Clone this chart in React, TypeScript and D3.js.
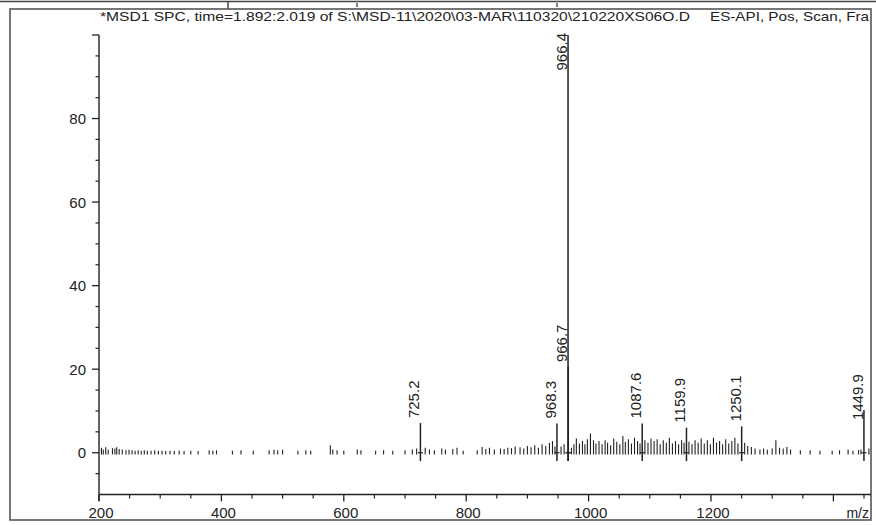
import * as d3 from "d3";

// spectrum header
const titleLeft = "*MSD1 SPC, time=1.892:2.019 of S:\\MSD-11\\2020\\03-MAR\\110320\\210220XS06O.D";
const titleRight = "ES-API, Pos, Scan, Fra";

// labelled peaks (m/z, % abundance, printed label)
const peakMz = [725.2, 948.3, 966.4, 966.7, 1087.6, 1159.9, 1250.1, 1449.9];
const peakInt = [7.1, 7.0, 100, 20.5, 7.0, 6.0, 6.3, 10.2];
const peakLabel = ["725.2", "968.3", "966.4", "966.7", "1087.6", "1159.9", "1250.1", "1449.9"];

// small unlabelled sticks along the baseline
const noiseMz = [
  204, 207, 211, 215, 222, 226, 229, 233, 238, 244, 249, 254, 259, 264, 269, 274, 279, 285, 291, 297,
  303, 309, 316, 323, 331, 339, 350, 362, 380, 386, 392,
  418, 432, 452, 478, 486, 492, 500, 525, 538, 546, 578, 582, 589, 600, 622, 628, 652, 665, 680, 700, 712, 719,
  733, 740, 748, 760, 766, 778, 785, 795,
  818, 826, 832, 838, 846, 856, 862, 868, 874, 880, 888, 894, 900, 906, 912, 918, 924, 930, 936, 941, 945,
  955, 960, 972, 976, 980, 985, 990, 994, 998, 1003, 1008, 1012, 1017, 1022, 1027, 1031, 1036, 1041, 1046,
  1051, 1056, 1060, 1065, 1070, 1075, 1080, 1084, 1092, 1097, 1102, 1107, 1112, 1117, 1122, 1127, 1132,
  1137, 1142, 1147, 1152, 1156, 1164, 1169, 1174, 1179, 1184, 1189, 1194, 1199, 1204, 1209, 1214, 1219,
  1224, 1229, 1234, 1239, 1244, 1255, 1260, 1266, 1272, 1280, 1286, 1292,
  1300, 1306, 1312, 1318, 1324, 1330, 1346, 1362, 1378, 1398, 1410, 1424, 1432, 1441, 1445, 1458,
];
const noiseInt = [
  1.2, 0.8, 1.3, 0.7, 1.1, 1.0, 1.3, 0.9, 0.8, 0.6, 0.7, 0.6, 0.5, 0.6, 0.5, 0.6, 0.5, 0.5, 0.6, 0.5,
  0.5, 0.4, 0.5, 0.4, 0.5, 0.4, 0.5, 0.4, 0.6, 0.5, 0.6,
  0.5, 0.6, 0.5, 0.6, 0.7, 0.6, 0.7, 0.5, 0.6, 0.5, 1.8, 0.8, 0.6, 0.5, 0.8, 0.6, 0.5, 0.6, 0.5, 0.6, 0.8, 1.0,
  1.2, 0.8, 0.6, 1.0, 0.8, 0.9, 1.2, 0.5,
  0.6, 1.4, 0.9, 1.2, 0.8, 1.0, 0.9, 1.2, 1.1, 1.5, 1.3, 1.0, 1.6, 1.3, 1.8, 1.2, 2.0, 1.6, 2.3, 2.8, 1.5,
  1.5, 2.0, 1.2, 2.0, 3.4, 2.2, 2.8, 2.0, 3.2, 4.6, 3.0, 2.2, 2.8, 2.0, 3.0, 2.4, 1.8, 3.4, 2.6,
  2.0, 4.0, 2.6, 3.2, 2.2, 3.6, 2.8, 2.2, 3.0, 2.4, 3.4, 2.8, 3.2, 2.0, 3.0, 2.4, 3.6,
  2.2, 2.8, 2.0, 3.0, 2.4, 2.6, 2.0, 3.0, 2.4, 3.4, 2.2, 3.0, 2.0, 3.6, 2.4, 2.8, 2.0,
  3.2, 2.2, 2.8, 3.6, 2.2, 2.4, 1.6, 1.4, 1.0, 0.8, 1.0, 0.7,
  1.0, 3.0, 1.2, 1.0, 1.4, 0.8, 0.6, 0.6, 0.5, 0.5, 0.6, 0.8, 0.5, 0.6, 0.8, 1.0,
];

const xMajor = [200, 400, 600, 800, 1000, 1200, 1400];
const xLabels = ["200", "400", "600", "800", "1000", "1200", ""];
const yMajor = [0, 20, 40, 60, 80, 100];
const yLabels = ["0", "20", "40", "60", "80", ""];

const W = 876;
const H = 525;
const ink = "#222";
const font = "'Liberation Sans', Arial, sans-serif";

export default function App() {
  const x = d3.scaleLinear().domain([200, 1200]).range([99, 711]);
  const y = d3.scaleLinear().domain([-10, 100]).range([494.5, 35]);

  const xMinor = d3.range(200, 1451, 50).filter((v) => !xMajor.includes(v));
  const yMinor = d3.range(-5, 100, 5).filter((v) => !yMajor.includes(v));

  const clipR = 871;

  return (
    <div style={{ position: "fixed", left: 0, top: 0 }}>
      <svg width={W} height={H} style={{ display: "block", background: "#fff" }} fontFamily={font}>
        <defs>
          <clipPath id="frame">
            <rect x={10} y={9} width={clipR - 10} height={511} />
          </clipPath>
        </defs>

        {/* strip of the table row above */}
        <line x1={0} x2={W} y1={1.5} y2={1.5} stroke="#444" strokeWidth={1.5} />
        <line x1={228} x2={228} y1={1} y2={9} stroke="#444" strokeWidth={1.5} />
        <line x1={357} x2={357} y1={3} y2={7} stroke="#555" strokeWidth={1.5} />
        <line x1={557} x2={557} y1={3} y2={7} stroke="#555" strokeWidth={1.5} />

        {/* frame */}
        <rect x={10} y={9} width={clipR - 10} height={511} fill="none" stroke="#555" strokeWidth={1.6} />

        <g clipPath="url(#frame)">
          <text x={100} y={21} fontSize={13} fill={ink} textLength={590} lengthAdjust="spacingAndGlyphs">
            {titleLeft}
          </text>
          <text x={710} y={21} fontSize={13} fill={ink} textLength={159} lengthAdjust="spacingAndGlyphs">
            {titleRight}
          </text>

          {/* y axis */}
          <line x1={x(200)} x2={x(200)} y1={y(100)} y2={501} stroke={ink} strokeWidth={1.4} />
          {yMajor.map((v, i) => (
            <g key={"ym" + v}>
              <line x1={x(200) - 7} x2={x(200)} y1={y(v)} y2={y(v)} stroke={ink} strokeWidth={1.3} />
              <text x={86} y={y(v) + 5.5} fontSize={15} textAnchor="end" fill={ink}>
                {yLabels[i]}
              </text>
            </g>
          ))}
          {yMinor.map((v) => (
            <line key={"yn" + v} x1={x(200) - 3.5} x2={x(200)} y1={y(v)} y2={y(v)} stroke={ink} strokeWidth={1.2} />
          ))}

          {/* x axis */}
          <line x1={x(200)} x2={clipR} y1={y(-10)} y2={y(-10)} stroke={ink} strokeWidth={1.4} />
          {xMajor.map((v, i) => (
            <g key={"xm" + v}>
              <line x1={x(v)} x2={x(v)} y1={y(-10)} y2={y(-10) + 7} stroke={ink} strokeWidth={1.3} />
              <text x={x(v) + 2} y={518} fontSize={15} textAnchor="middle" fill={ink}>
                {xLabels[i]}
              </text>
            </g>
          ))}
          {xMinor.map((v) => (
            <line key={"xn" + v} x1={x(v)} x2={x(v)} y1={y(-10)} y2={y(-10) + 4} stroke={ink} strokeWidth={1.2} />
          ))}
          <text x={869} y={518} fontSize={14} fill={ink} textAnchor="end">
            m/z
          </text>

          {/* baseline noise */}
          {noiseMz.map((m, i) => (
            <line
              key={"n" + i}
              x1={x(m)}
              x2={x(m)}
              y1={y(-0.4)}
              y2={y(noiseInt[i])}
              stroke={ink}
              strokeWidth={1.1}
            />
          ))}

          {/* labelled peaks */}
          {peakMz.map((m, i) => {
            const top = peakInt[i] >= 99;
            const beside = peakLabel[i] === "1449.9";
            const lx = x(m) - 1;
            const ly = top ? y(peakInt[i]) - 2 : beside ? y(peakInt[i]) + 10 : y(peakInt[i]) - 5;
            return (
              <g key={"p" + i}>
                <line x1={x(m)} x2={x(m)} y1={y(-2)} y2={y(peakInt[i])} stroke={ink} strokeWidth={1.5} />
                <line x1={x(m) - 2.5} x2={x(m) + 2.5} y1={y(0)} y2={y(0)} stroke={ink} strokeWidth={1.2} />
                <text
                  transform={`translate(${lx},${ly}) rotate(-90)`}
                  fontSize={15}
                  fill={ink}
                  textAnchor={top ? "end" : "start"}
                >
                  {peakLabel[i]}
                </text>
              </g>
            );
          })}
        </g>
      </svg>
    </div>
  );
}
